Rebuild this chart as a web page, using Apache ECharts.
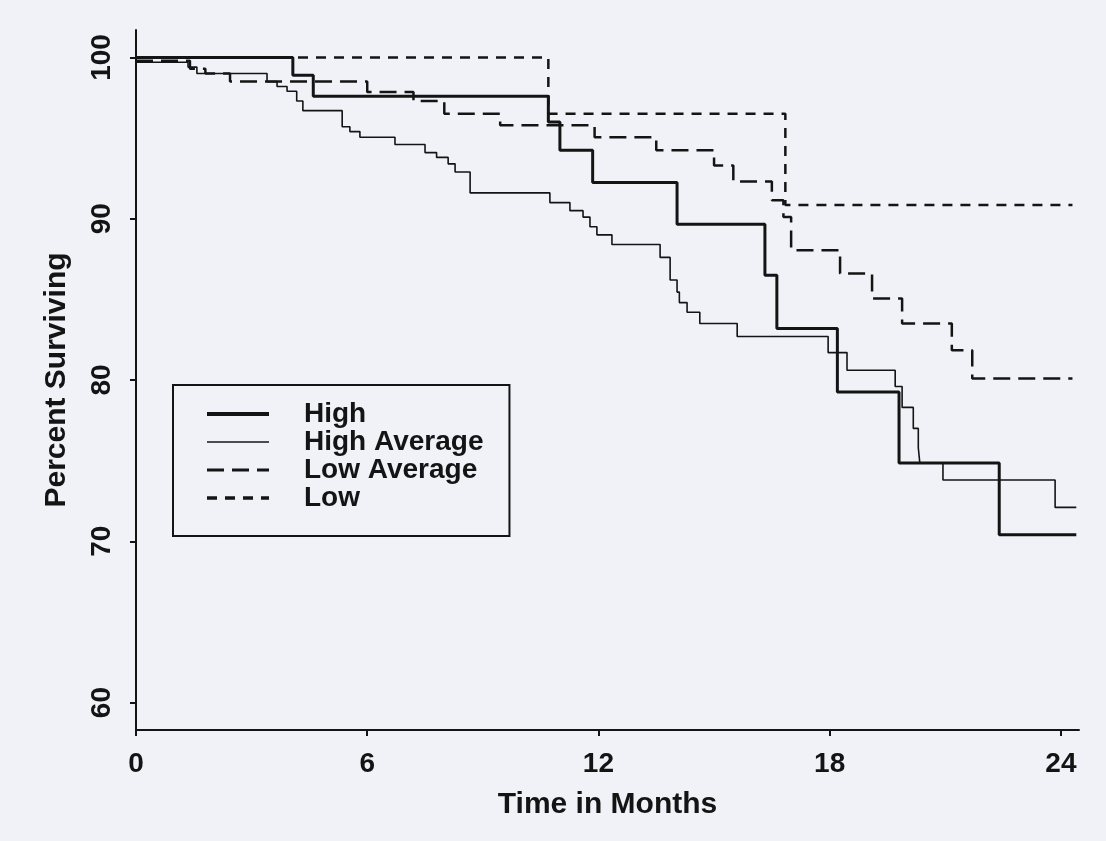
<!DOCTYPE html>
<html>
<head>
<meta charset="utf-8">
<script src="https://cdn.jsdelivr.net/npm/echarts@6/dist/echarts.min.js"></script>
<style>
  html, body { margin: 0; padding: 0; background: #f1f2f7; }
  #chartBox { width: 1106px; height: 841px; }
</style>
</head>
<body>
<div id="chartBox"></div>
<script>
// step times (months) and percent surviving after each step
const highT = [0, 4.07, 4.6, 10.7, 11.0, 11.85, 14.04, 16.32, 16.63, 18.2, 19.8, 22.4, 24.4]
const highV = [100, 98.9, 97.6, 96.0, 94.25, 92.25, 89.65, 86.5, 83.2, 79.25, 74.85, 70.4, 70.4]

const highAvgT = [0, 1.35, 1.58, 3.4, 3.66, 3.92, 4.17, 4.33, 5.35, 5.55, 5.81, 6.72, 7.5, 7.8, 8.1, 8.28, 8.67,
  10.74, 11.26, 11.6, 11.78, 11.96, 12.35, 13.6, 13.86, 14.04, 14.1, 14.3, 14.63, 15.6, 17.96, 18.45,
  19.7, 19.88, 20.17, 20.3, 20.34, 20.94, 23.85, 24.4]
const highAvgV = [99.7, 99.4, 99.0, 98.5, 98.2, 97.9, 97.3, 96.7, 95.7, 95.4, 95.05, 94.6, 94.1, 93.8, 93.4, 92.9, 91.6,
  91.0, 90.5, 90.1, 89.5, 89.0, 88.4, 87.6, 86.2, 85.45, 84.8, 84.2, 83.5, 82.7, 81.7, 80.6,
  79.6, 78.3, 77.0, 75.8, 74.85, 73.8, 72.1, 72.1]

const lowAvgT = [0, 1.4, 1.8, 2.44, 6.0, 7.2, 8.0, 9.45, 11.9, 13.5, 15.0, 15.5, 16.5, 16.8, 17.0, 18.27, 19.1, 19.88, 21.17, 21.7, 24.3]
const lowAvgV = [99.8, 99.3, 99.0, 98.5, 97.85, 97.3, 96.5, 95.8, 95.05, 94.25, 93.3, 92.3, 91.15, 90.1, 88.05, 86.6, 85.05, 83.5, 81.85, 80.1, 80.1]

const lowT = [0, 10.7, 16.85, 24.3]
const lowV = [100, 96.5, 90.85, 90.85]

const xTicks = [0, 6, 12, 18, 24]
const yTicks = [60, 70, 80, 90, 100]

const pairs = (t, v) => t.map((x, i) => [x, v[i]])
const ink = '#141414'
const font = 'Liberation Sans, Arial, Helvetica, sans-serif'

let myChart = echarts.init(document.getElementById('chartBox'))

function stepSeries (name, data, width, type) {
  return {
    name: name,
    type: 'line',
    step: 'end',
    symbol: 'none',
    data: data,
    lineStyle: { color: ink, width: width, type: type },
    itemStyle: { color: ink }
  }
}

myChart.setOption({
  backgroundColor: '#f1f2f7',
  animation: false,
  textStyle: { fontFamily: font },
  grid: { left: 136, right: 27, top: 30, bottom: 111 },
  legend: {
    orient: 'vertical',
    left: 173,
    top: 385,
    backgroundColor: '#f1f2f7',
    borderColor: ink,
    borderWidth: 2,
    padding: [15, 26, 24, 32],
    itemGap: 0,
    itemWidth: 62,
    itemHeight: 14,
    itemStyle: { opacity: 0 },
    textStyle: {
      fontFamily: font,
      fontSize: 28,
      fontWeight: 'bold',
      color: ink,
      lineHeight: 28,
      padding: [0, 0, 0, 30]
    },
    data: [
      { name: 'High', lineStyle: { width: 4 } },
      { name: 'High Average', lineStyle: { width: 1.6 } },
      { name: 'Low Average', lineStyle: { width: 3 } },
      { name: 'Low', lineStyle: { width: 3.5 } }
    ]
  },
  xAxis: {
    type: 'value',
    min: 0,
    max: 24.47,
    name: 'Time in Months',
    nameLocation: 'middle',
    nameGap: 60,
    nameTextStyle: { fontFamily: font, fontSize: 30, fontWeight: 'bold', color: ink },
    axisLine: { lineStyle: { color: ink, width: 2 } },
    axisTick: { show: true, length: 6, lineStyle: { color: ink, width: 2 }, customValues: xTicks },
    axisLabel: { customValues: xTicks, margin: 20, fontSize: 28, fontWeight: 'bold', color: ink, fontFamily: font },
    splitLine: { show: false }
  },
  yAxis: {
    type: 'value',
    min: 58.3,
    max: 101.7,
    name: 'Percent Surviving',
    nameLocation: 'middle',
    nameGap: 64,
    nameTextStyle: { fontFamily: font, fontSize: 30, fontWeight: 'bold', color: ink },
    axisLine: { show: true, lineStyle: { color: ink, width: 2 } },
    axisTick: { show: true, length: 6, lineStyle: { color: ink, width: 2 }, customValues: yTicks },
    axisLabel: { customValues: yTicks, rotate: 90, margin: 20, fontSize: 28, fontWeight: 'bold', color: ink, fontFamily: font },
    splitLine: { show: false }
  },
  series: [
    stepSeries('High', pairs(highT, highV), 3, 'solid'),
    stepSeries('High Average', pairs(highAvgT, highAvgV), 1.6, 'solid'),
    stepSeries('Low Average', pairs(lowAvgT, lowAvgV), 2.5, [17, 8]),
    stepSeries('Low', pairs(lowT, lowV), 2.5, [10, 8])
  ]
})
</script>
</body>
</html>
